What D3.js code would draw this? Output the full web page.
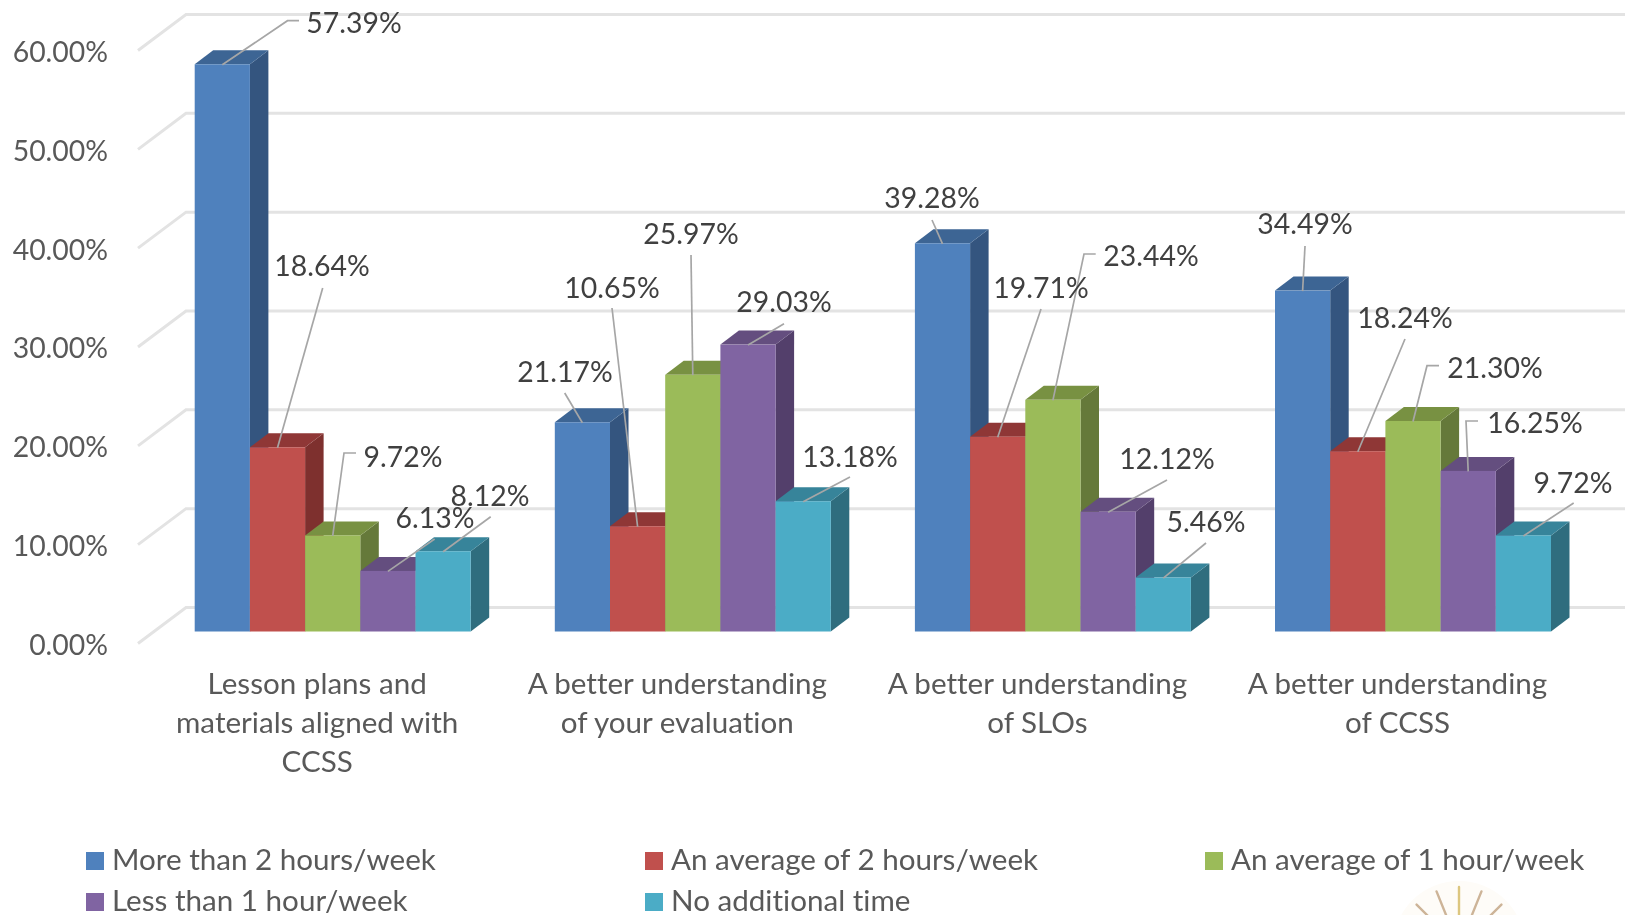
<!DOCTYPE html>
<html><head><meta charset="utf-8">
<script src="https://cdn.jsdelivr.net/npm/d3@7"></script>
<style>
html,body{margin:0;padding:0;background:#fff;overflow:hidden}
svg{display:block;font-family:Lato,"Open Sans",sans-serif;font-variant-ligatures:none;filter:blur(0.6px)}
</style></head><body>
<svg id="c" width="1625" height="915"></svg>
<script>
// ---- data ----
const categories = [
  ["Lesson plans and","materials aligned with","CCSS"],
  ["A better understanding","of your evaluation"],
  ["A better understanding","of SLOs"],
  ["A better understanding","of CCSS"]
];
const seriesNames = ["More than 2 hours/week","An average of 2 hours/week","An average of 1 hour/week","Less than 1 hour/week","No additional time"];
const moreThan2 = [57.39,21.17,39.28,34.49];
const average2  = [18.64,10.65,19.71,18.24];
const average1  = [9.72,25.97,23.44,21.30];
const lessThan1 = [6.13,29.03,12.12,16.25];
const noTime    = [8.12,13.18,5.46,9.72];
const seriesValues = [moreThan2,average2,average1,lessThan1,noTime];
const yTicks = [0,10,20,30,40,50,60];

// ---- styles ----
const frontColors = ["#4F81BD","#C0504D","#9BBB59","#8064A2","#4BACC6"];
const sideColors  = ["#34557F","#7E302E","#65793A","#533F6B","#2F6D7E"];
const topColors   = ["#3D6594","#8F3736","#789142","#644E7F","#37849A"];

// ---- layout: label centres and leader points, [series][category] ----
const labelPos = [
  [[354,23],[565,372],[932,198],[1305,224]],
  [[322,266],[612,288],[1041,288],[1405,318]],
  [[403,457],[691,234],[1151,256],[1495,368]],
  [[435,518],[784,302],[1167,459],[1535,423]],
  [[490,496],[850,457],[1206,522],[1573,483]]
];
const leaderPts = [
  [[[287.5,20.7],[299,20.7]],[[564.7,393]],[[932,220]],[[1305,246]]],
  [[[322.7,288]],[[612,308]],[[1041,309]],[[1405,339]]],
  [[[344,453],[356,453]],[[691,255]],[[1084,254],[1095.7,254]],[[1427,365.7],[1439,365.7]]],
  [[[434.6,539]],[[784,323.7]],[[1167,480]],[[1466,421],[1478,421]]],
  [[[490.7,516.7]],[[850,477]],[[1206,543]],[[1573.7,503]]]
];
const sunRays = [-45,-22,0,22,45];

// ---- scales ----
const W=1625,H=915;
const svg=d3.select("#c");
const y=d3.scaleLinear().domain([0,60]).range([631.5,38.5]);
const x0=d3.scalePoint().domain(d3.range(categories.length)).range([194.7,1275]);
const x1=d3.scaleBand().domain(d3.range(seriesNames.length)).range([0,276]);
const depth={dx:18.5,dy:14};
const wall={frontX:138,backX:186,frontDy:12,backDy:-24};
const line=d3.line();

// ---- walls ----
const grid=svg.append("g").attr("fill","none").attr("stroke","#e3e3e3").attr("stroke-width",3);
grid.selectAll("path").data(yTicks).join("path")
  .attr("d",v=>line([[wall.frontX,y(v)+wall.frontDy],[wall.backX,y(v)+wall.backDy],[W,y(v)+wall.backDy]]));

// ---- y axis labels ----
const axis=d3.axisLeft(y).tickValues(yTicks).tickSize(0).tickPadding(0).tickFormat(v=>v.toFixed(2)+"%");
const ag=svg.append("g").attr("transform",`translate(108,${wall.frontDy+1})`).call(axis);
ag.select(".domain").remove();
ag.selectAll("text").attr("font-size",28.4).attr("font-family","Lato").attr("fill","#595959").attr("dy","0.35em");

// ---- bars ----
const bw=x1.bandwidth();
const barsG=svg.append("g");
categories.forEach((c,ci)=>{
  seriesValues.forEach((vals,si)=>{
    const v=vals[ci],l=x0(ci)+x1(si),r=l+bw,t=y(v),b=y(0),dx=depth.dx,dy=depth.dy;
    const g=barsG.append("g");
    g.append("path").attr("fill",sideColors[si])
      .attr("d",line([[r,t],[r+dx,t-dy],[r+dx,b-dy],[r,b]])+"Z");
    g.append("path").attr("fill",topColors[si])
      .attr("d",line([[l,t],[l+dx,t-dy],[r+dx,t-dy],[r,t]])+"Z");
    g.append("rect").attr("x",l).attr("y",t).attr("width",bw).attr("height",b-t).attr("fill",frontColors[si]);
  });
});

// ---- leaders and value labels ----
const lg=svg.append("g");
seriesValues.forEach((vals,si)=>{
  vals.forEach((v,ci)=>{
    const start=[x0(ci)+x1(si)+bw/2,y(v)+0.5];
    lg.append("path").attr("fill","none").attr("stroke","#a6a6a6").attr("stroke-width",1.7)
      .attr("d",line([start,...leaderPts[si][ci]]));
  });
});
seriesValues.forEach((vals,si)=>{
  vals.forEach((v,ci)=>{
    const p=labelPos[si][ci];
    lg.append("text").attr("x",p[0]).attr("y",p[1]).attr("dy","0.35em").attr("text-anchor","middle")
      .attr("font-size",28.4).attr("fill","#404040").text(v.toFixed(2)+"%");
  });
});

// ---- category labels ----
const catG=svg.append("g").attr("font-size",29.6).attr("fill","#595959").attr("text-anchor","middle");
categories.forEach((lines,ci)=>{
  const cx=x0(ci)+122.5;
  lines.forEach((t,i)=>{
    catG.append("text").attr("x",cx).attr("y",684+i*39).attr("dy","0.35em").text(t);
  });
});

// ---- legend ----
const legCols=[86,645,1205], legRows=[852,893];
const legG=svg.append("g");
seriesNames.forEach((n,i)=>{
  const lx=legCols[i%3], ly=legRows[Math.floor(i/3)];
  legG.append("rect").attr("x",lx).attr("y",ly).attr("width",18).attr("height",18).attr("fill",frontColors[i]);
  legG.append("text").attr("x",lx+26).attr("y",ly+8).attr("dy","0.35em").attr("font-size",29.6).attr("fill","#595959").text(n);
});

// ---- clipped picture fragment at lower right ----
const sun=svg.append("g").attr("transform","translate(1459,947)");
sun.append("circle").attr("r",66).attr("fill","#fefcf8");
sun.selectAll("line").data(sunRays).join("line")
  .attr("x1",a=>60*Math.sin(a*Math.PI/180)).attr("y1",a=>-60*Math.cos(a*Math.PI/180))
  .attr("x2",a=>20*Math.sin(a*Math.PI/180)).attr("y2",a=>-20*Math.cos(a*Math.PI/180))
  .attr("stroke",a=>a===0?"#dcc67f":"#cdb498").attr("stroke-width",2.4).attr("stroke-linecap","round");
</script>
</body></html>
